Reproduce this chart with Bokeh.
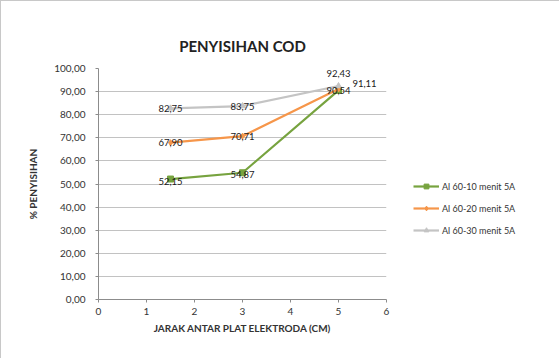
from bokeh.plotting import figure
from bokeh.models import ColumnDataSource, Legend, LegendItem, CustomJSTickFormatter, FixedTicker, Range1d
from bokeh.core.properties import value
from bokeh.embed import file_html
from bokeh.resources import INLINE

# Electrode spacing (cm) and COD removal (%) for each run
jarak = [1.5, 3, 5]
seri_names = ["Al 60-10 menit 5A", "Al 60-20 menit 5A", "Al 60-30 menit 5A"]
cod_10 = [52.15, 54.87, 90.54]
cod_20 = [67.90, 70.71, 91.11]
cod_30 = [82.75, 83.75, 92.43]

x_ticks = [0, 1, 2, 3, 4, 5, 6]
y_ticks = [0, 10, 20, 30, 40, 50, 60, 70, 80, 90, 100]

FONT = "Lato"

p = figure(frame_width=288, frame_height=231, output_backend="svg", toolbar_location=None,
           x_range=Range1d(0, 6), y_range=Range1d(0, 100),
           min_border_left=97, min_border_right=173, min_border_top=67, min_border_bottom=60,
           title="PENYISIHAN COD")
p.title.align = "center"
p.title.text_font = FONT
p.title.text_font_size = "15px"
p.title.text_font_style = "bold"
p.title.text_color = "#222222"
p.title.standoff = 27

p.outline_line_color = None
p.background_fill_color = "white"
p.border_fill_color = "white"
p.styles = {"border-top": "1px solid #c8c8c8", "border-left": "1px solid #c8c8c8"}

p.xgrid.grid_line_color = None
p.ygrid.grid_line_color = "#c2c2c2"
p.ygrid.grid_line_width = 1

p.xaxis.ticker = FixedTicker(ticks=x_ticks)
p.yaxis.ticker = FixedTicker(ticks=y_ticks)
p.yaxis.formatter = CustomJSTickFormatter(code="return tick.toFixed(2).replace('.', ',');")
for ax in (p.xaxis[0], p.yaxis[0]):
    ax.axis_line_color = "#8c8c8c"
    ax.major_tick_line_color = "#8c8c8c"
    ax.major_tick_out = 3
    ax.major_tick_in = 0
    ax.minor_tick_line_color = None
    ax.major_label_text_font = FONT
    ax.major_label_text_font_size = "10px"
    ax.major_label_text_color = "#333333"
    ax.axis_label_text_font = FONT
    ax.axis_label_text_font_size = "10px"
    ax.axis_label_text_font_style = "bold"
    ax.axis_label_text_color = "#333333"
p.xaxis.axis_label = "JARAK ANTAR PLAT ELEKTRODA (CM)"
p.yaxis.axis_label = "% PENYISIHAN"
p.xaxis.major_label_standoff = 5
p.xaxis.axis_label_standoff = 4
p.yaxis.major_label_standoff = 10
p.yaxis.axis_label_standoff = 12

colors = ["#77a33f", "#f6964a", "#c4c4c4"]
markers = ["square", "diamond", "triangle"]
series = [cod_10, cod_20, cod_30]

items = []
for name, ys, c, m in zip(seri_names, series, colors, markers):
    src = ColumnDataSource(dict(x=jarak, y=ys))
    ln = p.line("x", "y", source=src, line_color=c, line_width=2.2)
    sc = p.scatter("x", "y", source=src, marker=m, size=6, fill_color=c, line_color=c)
    items.append(LegendItem(label=name, renderers=[ln, sc]))

# Value labels; the three last points overlap, so they are nudged apart
label_offsets = [
    [(0, 2), (0, 2), (0, 0)],
    [(0, 0), (0, 0), (26, -6)],
    [(0, 0), (0, 0), (0, -12)],
]
for ys, offs in zip(series, label_offsets):
    for xv, yv, (dx, dy) in zip(jarak, ys, offs):
        p.text(x=[xv], y=[yv], text=[f"{yv:.2f}".replace(".", ",")],
               x_offset=dx, y_offset=dy,
               text_font=value(FONT), text_font_size="9.5px", text_color="#1a1a1a",
               text_align="center", text_baseline="middle")

legend = Legend(items=items, location=(27, 63), label_text_font=FONT,
                label_text_font_size="9px", label_text_color="#333333",
                glyph_width=26, glyph_height=12, spacing=10, border_line_color=None,
                background_fill_alpha=0, padding=4, label_standoff=3)
p.add_layout(legend, "right")

open("out.html", "w").write(file_html(p, INLINE))
